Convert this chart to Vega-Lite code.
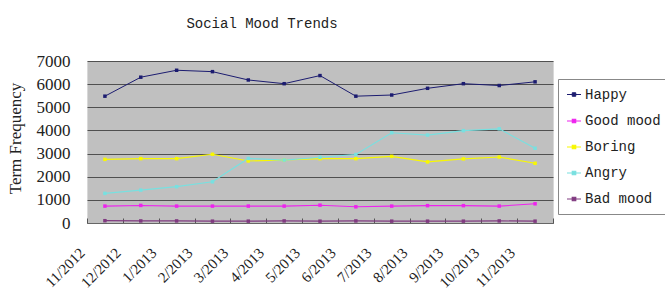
{
  "$schema": "https://vega.github.io/schema/vega-lite/v6.json",
  "width": 466,
  "height": 162,
  "autosize": {"type": "none"},
  "padding": {"left": 87, "top": 61, "right": 112, "bottom": 74},
  "background": "white",
  "title": {"text": "Social Mood Trends", "font": "Liberation Mono", "fontSize": 14, "fontWeight": "normal", "color": "#222", "anchor": "middle", "frame": "group", "dx": -58, "dy": 24, "baseline": "alphabetic", "offset": 34},
  "config": {
    "view": {"fill": "#c0c0c0", "stroke": "#d8d8d8"}
  },
  "data": {"values": [
    {"month": "11/2012", "series": "Happy", "value": 5480},
    {"month": "12/2012", "series": "Happy", "value": 6300},
    {"month": "1/2013", "series": "Happy", "value": 6600},
    {"month": "2/2013", "series": "Happy", "value": 6540},
    {"month": "3/2013", "series": "Happy", "value": 6180},
    {"month": "4/2013", "series": "Happy", "value": 6020},
    {"month": "5/2013", "series": "Happy", "value": 6370},
    {"month": "6/2013", "series": "Happy", "value": 5480},
    {"month": "7/2013", "series": "Happy", "value": 5530},
    {"month": "8/2013", "series": "Happy", "value": 5820},
    {"month": "9/2013", "series": "Happy", "value": 6020},
    {"month": "10/2013", "series": "Happy", "value": 5940},
    {"month": "11/2013", "series": "Happy", "value": 6100},
    {"month": "11/2012", "series": "Good mood", "value": 730},
    {"month": "12/2012", "series": "Good mood", "value": 760},
    {"month": "1/2013", "series": "Good mood", "value": 730},
    {"month": "2/2013", "series": "Good mood", "value": 730},
    {"month": "3/2013", "series": "Good mood", "value": 730},
    {"month": "4/2013", "series": "Good mood", "value": 730},
    {"month": "5/2013", "series": "Good mood", "value": 770},
    {"month": "6/2013", "series": "Good mood", "value": 700},
    {"month": "7/2013", "series": "Good mood", "value": 730},
    {"month": "8/2013", "series": "Good mood", "value": 750},
    {"month": "9/2013", "series": "Good mood", "value": 750},
    {"month": "10/2013", "series": "Good mood", "value": 730},
    {"month": "11/2013", "series": "Good mood", "value": 830},
    {"month": "11/2012", "series": "Boring", "value": 2750},
    {"month": "12/2012", "series": "Boring", "value": 2780},
    {"month": "1/2013", "series": "Boring", "value": 2780},
    {"month": "2/2013", "series": "Boring", "value": 2970},
    {"month": "3/2013", "series": "Boring", "value": 2680},
    {"month": "4/2013", "series": "Boring", "value": 2720},
    {"month": "5/2013", "series": "Boring", "value": 2780},
    {"month": "6/2013", "series": "Boring", "value": 2780},
    {"month": "7/2013", "series": "Boring", "value": 2880},
    {"month": "8/2013", "series": "Boring", "value": 2640},
    {"month": "9/2013", "series": "Boring", "value": 2770},
    {"month": "10/2013", "series": "Boring", "value": 2850},
    {"month": "11/2013", "series": "Boring", "value": 2580},
    {"month": "11/2012", "series": "Angry", "value": 1280},
    {"month": "12/2012", "series": "Angry", "value": 1420},
    {"month": "1/2013", "series": "Angry", "value": 1570},
    {"month": "2/2013", "series": "Angry", "value": 1780},
    {"month": "3/2013", "series": "Angry", "value": 2790},
    {"month": "4/2013", "series": "Angry", "value": 2720},
    {"month": "5/2013", "series": "Angry", "value": 2840},
    {"month": "6/2013", "series": "Angry", "value": 2960},
    {"month": "7/2013", "series": "Angry", "value": 3900},
    {"month": "8/2013", "series": "Angry", "value": 3800},
    {"month": "9/2013", "series": "Angry", "value": 3990},
    {"month": "10/2013", "series": "Angry", "value": 4070},
    {"month": "11/2013", "series": "Angry", "value": 3230},
    {"month": "11/2012", "series": "Bad mood", "value": 100},
    {"month": "12/2012", "series": "Bad mood", "value": 90},
    {"month": "1/2013", "series": "Bad mood", "value": 90},
    {"month": "2/2013", "series": "Bad mood", "value": 80},
    {"month": "3/2013", "series": "Bad mood", "value": 80},
    {"month": "4/2013", "series": "Bad mood", "value": 90},
    {"month": "5/2013", "series": "Bad mood", "value": 80},
    {"month": "6/2013", "series": "Bad mood", "value": 90},
    {"month": "7/2013", "series": "Bad mood", "value": 80},
    {"month": "8/2013", "series": "Bad mood", "value": 80},
    {"month": "9/2013", "series": "Bad mood", "value": 80},
    {"month": "10/2013", "series": "Bad mood", "value": 90},
    {"month": "11/2013", "series": "Bad mood", "value": 80}
  ]},
  "encoding": {
    "x": {
      "field": "month", "type": "ordinal", "sort": null,
      "scale": {"type": "band", "paddingInner": 0, "paddingOuter": 0},
      "axis": {
        "title": null, "labelAngle": -45, "labelFont": "Times New Roman, Liberation Serif, serif", "labelFontSize": 15, "labelColor": "#222",
        "labelAlign": "right", "labelBaseline": "top",
        "tickBand": "extent", "tickSize": -5, "tickColor": "#555", "domainColor": "#666",
        "labelPadding": 27, "labelOffset": -28, "grid": false
      }
    },
    "y": {
      "field": "value", "type": "quantitative",
      "scale": {"domain": [0, 7000], "nice": false},
      "axis": {
        "title": "Term Frequency", "titleFont": "Times New Roman, Liberation Serif, serif", "titleFontSize": 17, "titleFontWeight": "normal", "titleColor": "#222",
        "titleX": -72, "titleY": 77, "titleAngle": -90, "titleBaseline": "middle", "titleAlign": "center",
        "values": [0, 1000, 2000, 3000, 4000, 5000, 6000, 7000], "format": "d",
        "labelFont": "Times New Roman, Liberation Serif, serif", "labelFontSize": 17, "labelColor": "#222", "labelPadding": 17,
        "ticks": false, "domain": false, "grid": true, "gridColor": "#505050", "gridWidth": 1
      }
    },
    "color": {
      "field": "series", "type": "nominal",
      "scale": {"domain": ["Happy", "Good mood", "Boring", "Angry", "Bad mood"], "range": ["#1c1c70", "#ee22ee", "#f8f800", "#78e0e0", "#803a80"]},
      "legend": {
        "title": null, "orient": "none", "legendX": 471, "legendY": 18,
        "strokeColor": "#888", "fillColor": "white", "padding": 8,
        "labelFont": "Liberation Mono", "labelFontSize": 14, "labelColor": "#222", "labelOffset": 3, "labelLimit": 300,
        "rowPadding": 11, "symbolType": "M-1,0H1M-0.25,-0.25H0.25V0.25H-0.25Z", "symbolSize": 196, "symbolStrokeWidth": 1.2
      }
    }
  },
  "layer": [
    {
      "mark": {"type": "line"},
      "encoding": {
        "strokeWidth": {"field": "series", "type": "nominal", "scale": {"domain": ["Happy", "Good mood", "Boring", "Angry", "Bad mood"], "range": [1, 1.2, 1.2, 2.5, 2]}, "legend": null}
      }
    },
    {
      "mark": {"type": "point", "shape": "square", "filled": true, "size": 12, "opacity": 1}
    }
  ]
}
